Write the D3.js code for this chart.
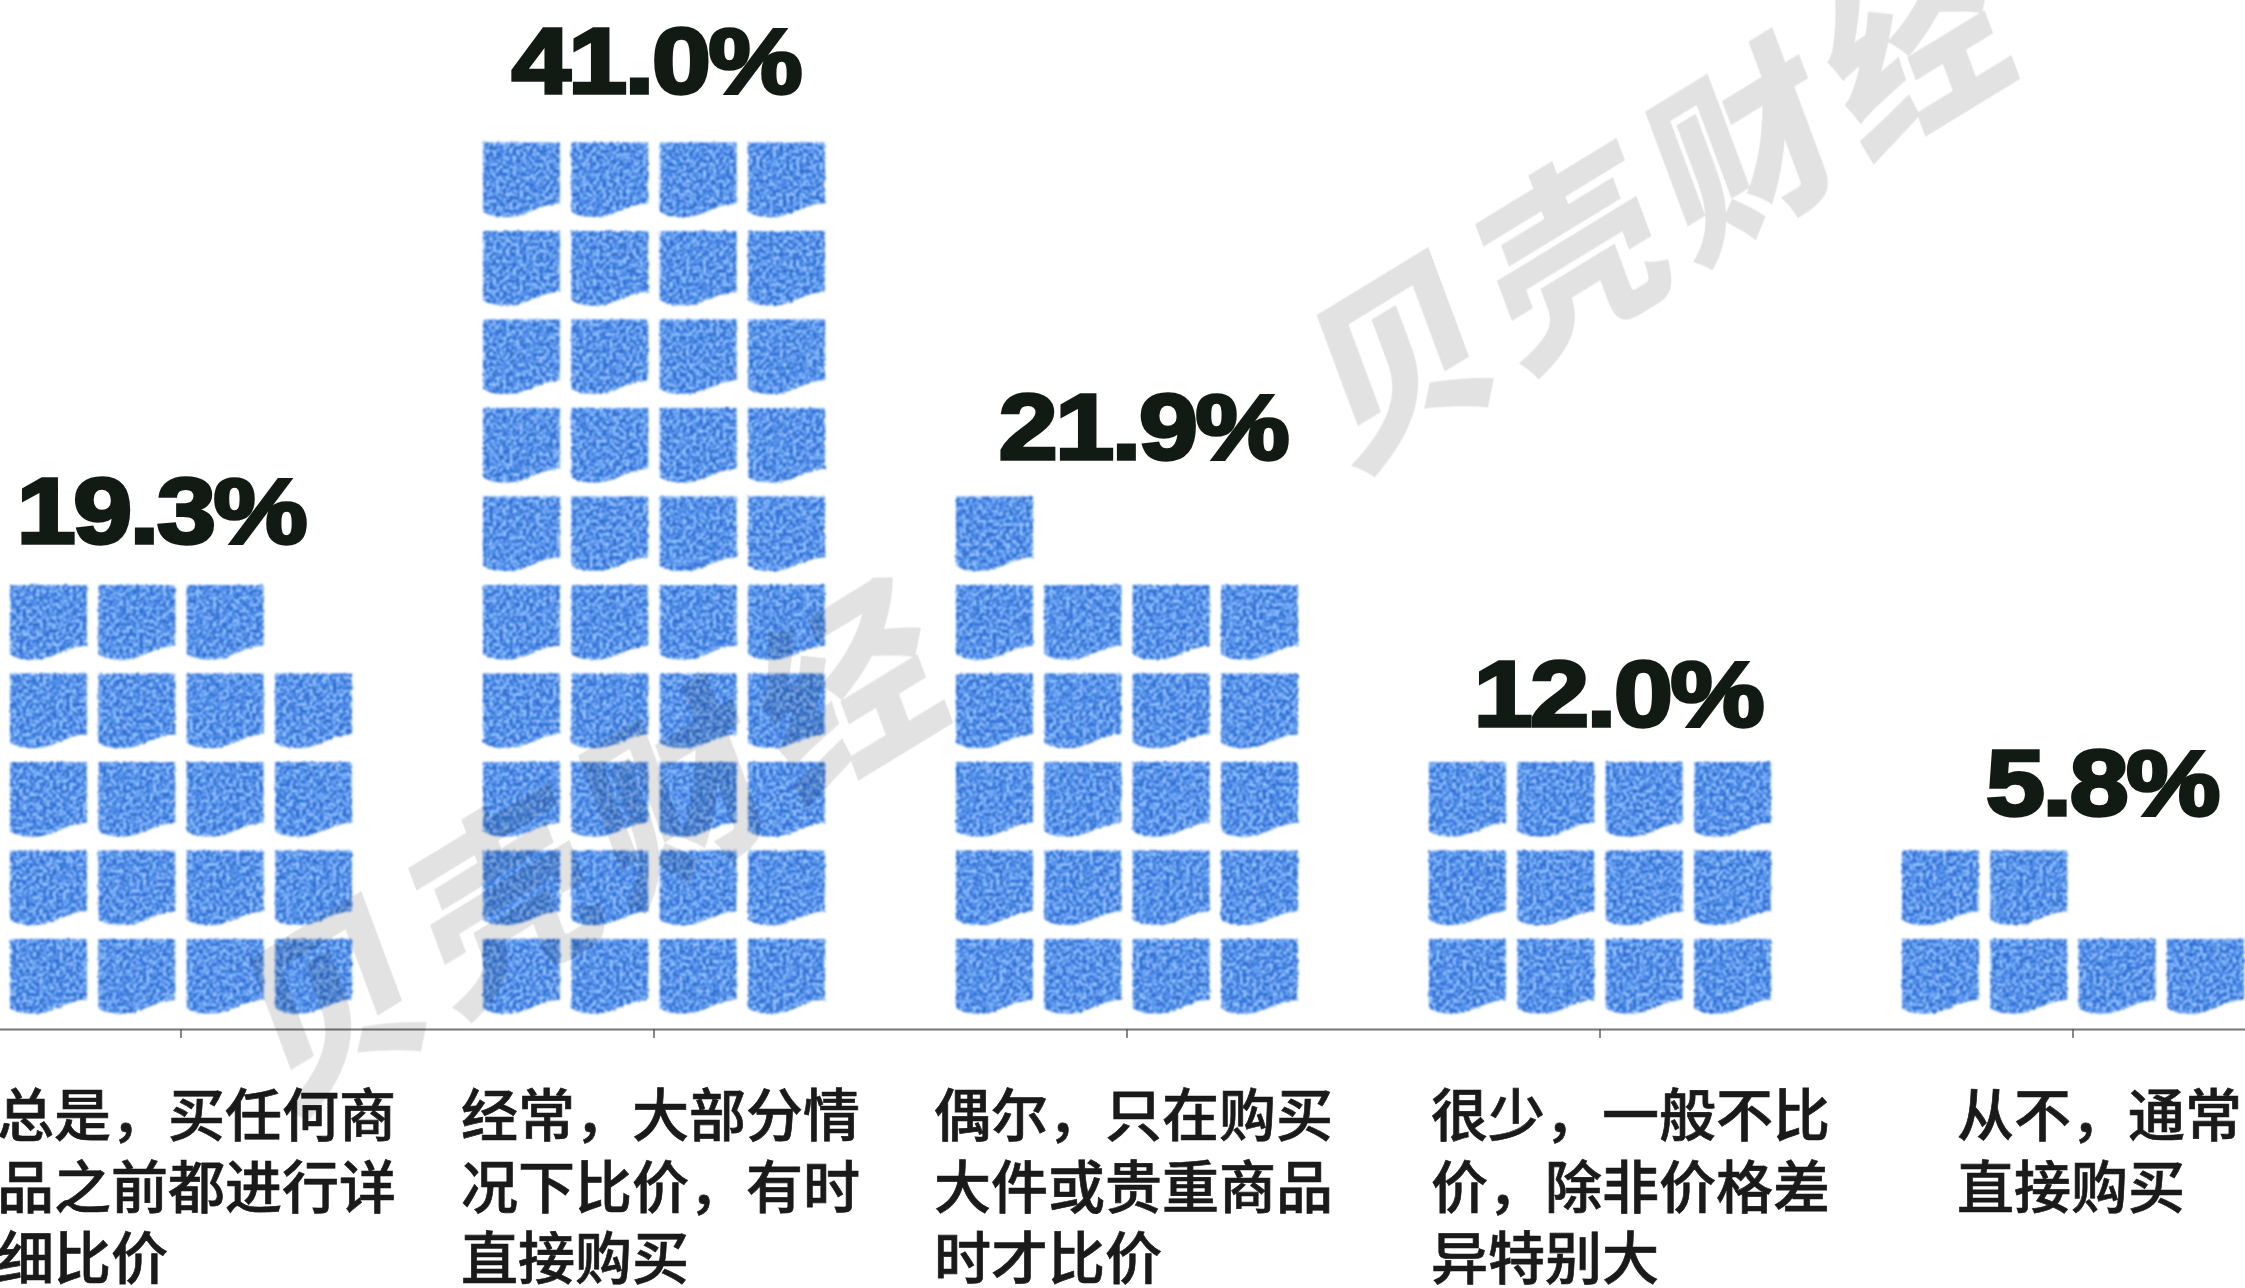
<!DOCTYPE html>
<html>
<head>
<meta charset="utf-8">
<script src="https://cdn.jsdelivr.net/npm/d3@7/dist/d3.min.js"></script>
<style>
  html, body { margin: 0; background: #fff; overflow: hidden; }
  .pct { font-family: "Liberation Sans", sans-serif; font-weight: 700; fill: #121a14; stroke: #121a14; }
  .cat { font-family: "Noto Sans CJK SC", sans-serif; font-weight: 500; fill: #1a1a1a; stroke: #1a1a1a; stroke-width: 0.7; }
  .mark { font-family: "Noto Sans CJK SC", sans-serif; font-weight: 900; fill: #e2e2e2; mix-blend-mode: multiply; }
</style>
</head>
<body>
<script>
const categories = ["总是", "经常", "偶尔", "很少", "从不"];
const percents = [19.3, 41.0, 21.9, 12.0, 5.8];
// the picture draws whole tiles only, counted off the image
const tileCounts = [19, 40, 21, 12, 6];
const catLines = [
    ["总是，买任何商", "品之前都进行详", "细比价"],
    ["经常，大部分情", "况下比价，有时", "直接购买"],
    ["偶尔，只在购买", "大件或贵重商品", "时才比价"],
    ["很少，一般不比", "价，除非价格差", "异特别大"],
    ["从不，通常", "直接购买"]
];
const watermark = "贝壳财经";

const width = 2245,
    height = 1288,
    axisY = 1029,
    perRow = 4;

// label offsets, the original is hand placed
const pctNudge = [-20, 2, 16, 18, 29];
const pctLift = [42, 50, 38, 36, 36];
const catNudge = [-184, -193, -193, -169, -116];

const svg = d3.select("body").append("svg")
    .attr("width", width)
    .attr("height", height)
    .style("display", "block");

const defs = svg.append("defs");
const grain = defs.append("filter")
    .attr("id", "grain")
    .attr("filterUnits", "userSpaceOnUse")
    .attr("x", 0).attr("y", 0)
    .attr("width", width).attr("height", height)
    .attr("color-interpolation-filters", "sRGB");
grain.append("feTurbulence")
    .attr("type", "fractalNoise")
    .attr("baseFrequency", 0.3)
    .attr("numOctaves", 3)
    .attr("seed", 9)
    .attr("result", "noise");
grain.append("feDisplacementMap")
    .attr("in", "SourceGraphic")
    .attr("in2", "noise")
    .attr("scale", 3)
    .attr("result", "rough");
grain.append("feColorMatrix")
    .attr("in", "noise")
    .attr("type", "matrix")
    .attr("values", "4 0 0 0 -1.5  4 0 0 0 -1.5  4 0 0 0 -1.5  0 0 0 0 1")
    .attr("result", "grey");
const ramp = grain.append("feComponentTransfer").attr("in", "grey").attr("result", "speckle");
ramp.append("feFuncR").attr("type", "table").attr("tableValues", "0.17 0.31 0.60");
ramp.append("feFuncG").attr("type", "table").attr("tableValues", "0.41 0.56 0.78");
ramp.append("feFuncB").attr("type", "table").attr("tableValues", "0.80 0.93 1.0");
grain.append("feComposite")
    .attr("in", "speckle")
    .attr("in2", "rough")
    .attr("operator", "in")
    .attr("result", "tiles");
grain.append("feGaussianBlur").attr("in", "tiles").attr("stdDeviation", 0.8);

const x = d3.scaleBand()
    .domain(categories)
    .range([-55.5, 2309.5]);

const col = d3.scaleBand()
    .domain(d3.range(perRow))
    .range([-171, 171])
    .paddingInner(0.13);

const row = d3.scaleLinear()
    .domain([0, 1])
    .range([939, 850.5]);

const tileW = col.bandwidth();

// flat top, wavy bottom edge that sags to the left
function tilePath() {
    const p = d3.path();
    const w = tileW;
    p.moveTo(0, 0);
    p.lineTo(w, 0);
    p.lineTo(w, w * 0.79);
    p.bezierCurveTo(w * 0.72, w * 0.8, w * 0.55, w * 0.98, w * 0.3, w * 0.97);
    p.bezierCurveTo(w * 0.18, w * 0.97, w * 0.08, w * 0.95, 0, w * 0.9);
    p.closePath();
    return p.toString();
}

const tiles = svg.append("g").attr("filter", "url(#grain)");

categories.forEach((c, i) => {
    const cx = x(c) + x.bandwidth() / 2;
    tiles.append("g")
        .selectAll("path")
        .data(d3.range(tileCounts[i]))
        .join("path")
        .attr("d", tilePath())
        .attr("fill", "#3f7fe0")
        .attr("transform", (d) => `translate(${cx + col(d % perRow)},${row(Math.floor(d / perRow))})`);
});

const axis = svg.append("g")
    .attr("transform", `translate(0,${axisY})`)
    .call(d3.axisBottom(x).tickSizeOuter(0).tickSize(9).tickFormat(""));
axis.select(".domain").attr("stroke", "#777").attr("stroke-width", 1.8);
axis.selectAll(".tick line").attr("stroke", "#555").attr("stroke-width", 1.4);

// percent labels sit just above the top row of each stack
categories.forEach((c, i) => {
    const cx = x(c) + x.bandwidth() / 2;
    const topRow = Math.floor((tileCounts[i] - 1) / perRow);
    svg.append("text")
        .attr("class", "pct")
        .attr("transform", `translate(${cx + pctNudge[i]},${row(topRow) - pctLift[i]}) scale(1.15,1)`)
        .attr("text-anchor", "middle")
        .attr("font-size", 92)
        .attr("stroke-width", 3.5)
        .attr("letter-spacing", -2)
        .text(d3.format(".1f")(percents[i]) + "%");

    catLines[i].forEach((line, k) => {
        svg.append("text")
            .attr("class", "cat")
            .attr("x", cx + catNudge[i])
            .attr("y", 1136 + k * 71.5)
            .attr("font-size", 57)
            .text(line);
    });
});

// two diagonal watermarks laid over everything
[[1661, 186], [594, 830]].forEach((m) => {
    svg.append("text")
        .attr("class", "mark")
        .attr("transform", `translate(${m[0]},${m[1]}) rotate(-31.4) skewX(-11)`)
        .attr("text-anchor", "middle")
        .attr("dominant-baseline", "central")
        .attr("font-size", 185)
        .attr("letter-spacing", 16)
        .text(watermark);
});
</script>
</body>
</html>
